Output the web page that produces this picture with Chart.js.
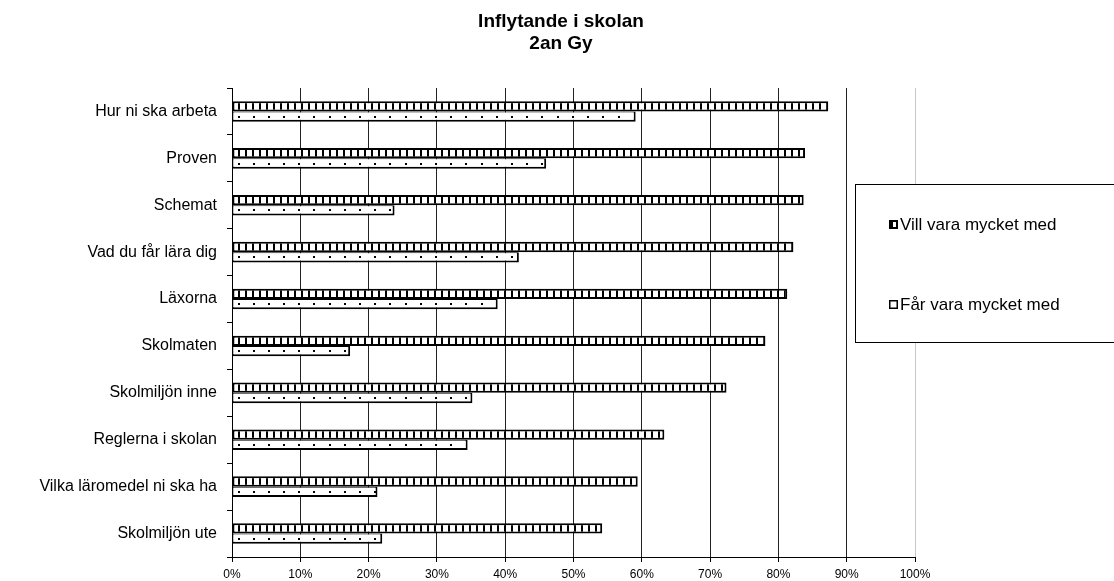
<!DOCTYPE html>
<html lang="sv">
<head>
<meta charset="utf-8">
<title>Inflytande i skolan</title>
<script src="https://cdn.jsdelivr.net/npm/chart.js@4.4.1/dist/chart.umd.min.js"></script>
<style>
  html, body { margin: 0; padding: 0; background: #fff; }
  canvas { display: block; }
</style>
</head>
<body>
<canvas id="chart" width="1114" height="581"></canvas>
<script>
const categories = [
    'Hur ni ska arbeta',
    'Proven',
    'Schemat',
    'Vad du får lära dig',
    'Läxorna',
    'Skolmaten',
    'Skolmiljön inne',
    'Reglerna i skolan',
    'Vilka läromedel ni ska ha',
    'Skolmiljön ute'
];
const villValues = [87.3, 83.9, 83.7, 82.2, 81.3, 78.1, 72.4, 63.3, 59.4, 54.2];
const farValues = [59.1, 46.0, 23.8, 42.0, 38.9, 17.3, 35.2, 34.5, 21.3, 22.0];
const seriesNames = ['Vill vara mycket med', 'Får vara mycket med'];
const titleLines = ['Inflytande i skolan', '2an Gy'];
const xTickLabels = ['0%', '10%', '20%', '30%', '40%', '50%', '60%', '70%', '80%', '90%', '100%'];

const FONT = '"Liberation Sans", Arial, sans-serif';
const canvas = document.getElementById('chart');
const mainCtx = canvas.getContext('2d');

// vertical black stripes for the "Vill" bars
function stripePattern() {
    const c = document.createElement('canvas');
    c.width = 7;
    c.height = 1;
    const g = c.getContext('2d');
    g.fillStyle = '#fff';
    g.fillRect(0, 0, 7, 1);
    g.fillStyle = '#000';
    g.fillRect(0, 0, 2, 1);
    return mainCtx.createPattern(c, 'repeat');
}
const stripes = stripePattern();

// title is centred on the whole page, not on the plot area
const pageTitle = {
    id: 'pageTitle',
    afterDraw(chart) {
        const ctx = chart.ctx;
        ctx.save();
        ctx.font = 'bold 19px ' + FONT;
        ctx.fillStyle = '#000';
        ctx.textAlign = 'center';
        ctx.textBaseline = 'alphabetic';
        titleLines.forEach((line, i) => ctx.fillText(line, 561, 27 + i * 22));
        ctx.restore();
    }
};

// dotted fill for the "Får" bars, drawn along each bar's centre line
const dotsPlugin = {
    id: 'dots',
    afterDatasetsDraw(chart) {
        const meta = chart.getDatasetMeta(1);
        const ctx = chart.ctx;
        ctx.save();
        ctx.fillStyle = '#000';
        meta.data.forEach(bar => {
            const { x, y, base } = bar.getProps(['x', 'y', 'base'], true);
            for (let px = base + 5; px < x - 3; px += 15.2) {
                ctx.fillRect(Math.round(px), Math.round(y) - 1, 2, 2);
            }
        });
        ctx.restore();
    }
};

// boxed legend that sits over the right part of the plot
const boxLegend = {
    id: 'boxLegend',
    afterDraw(chart) {
        const ctx = chart.ctx;
        const left = 855.5, top = 184.5, bottom = 342.5;
        const itemY = [224, 304];
        ctx.save();
        ctx.fillStyle = '#fff';
        ctx.fillRect(left, top, chart.width - left + 5, bottom - top);
        ctx.strokeStyle = '#000';
        ctx.lineWidth = 1;
        ctx.strokeRect(left, top, chart.width - left + 5, bottom - top);

        ctx.font = '17px ' + FONT;
        ctx.textBaseline = 'middle';
        ctx.textAlign = 'left';
        seriesNames.forEach((name, i) => {
            const y = itemY[i];
            if (i === 0) {
                ctx.fillStyle = '#000';
                ctx.fillRect(889, y - 4, 9, 9);
                ctx.fillStyle = '#fff';
                ctx.fillRect(893, y - 2, 3, 5);
            } else {
                ctx.fillStyle = '#fff';
                ctx.fillRect(889, y - 4, 9, 9);
                ctx.lineWidth = 1.5;
                ctx.strokeRect(889.75, y - 3.25, 7.5, 7.5);
            }
            ctx.fillStyle = '#000';
            ctx.fillText(name, 900, y + 1);
        });
        ctx.restore();
    }
};

Chart.defaults.font.family = FONT;
Chart.defaults.color = '#000';

new Chart(mainCtx, {
    type: 'bar',
    data: {
        labels: categories,
        datasets: [
            {
                label: seriesNames[0],
                data: villValues,
                backgroundColor: stripes,
                borderColor: '#000',
                borderWidth: 2,
                borderSkipped: false
            },
            {
                label: seriesNames[1],
                data: farValues,
                backgroundColor: '#fff',
                borderColor: '#000',
                borderWidth: { top: 1, left: 1, right: 2, bottom: 2 },
                borderSkipped: false
            }
        ]
    },
    options: {
        indexAxis: 'y',
        responsive: false,
        animation: false,
        categoryPercentage: 0.44,
        barPercentage: 1.0,
        layout: { padding: { left: 0, right: 199, top: 88, bottom: 0 } },
        plugins: {
            legend: { display: false },
            tooltip: { enabled: false },
            title: { display: false }
        },
        scales: {
            x: {
                min: 0,
                max: 100,
                ticks: {
                    stepSize: 10,
                    maxRotation: 0,
                    color: '#000',
                    font: { size: 12 },
                    padding: 5,
                    callback: (v, i) => xTickLabels[i]
                },
                grid: {
                    color: c => c.tick && c.tick.value === 100 ? '#c8c8c8' : '#222',
                    tickColor: '#000',
                    tickLength: 5
                },
                border: { color: '#000' },
                afterFit: s => { s.height = 24; }
            },
            y: {
                ticks: {
                    color: '#000',
                    font: { size: 16 },
                    padding: 10
                },
                grid: {
                    offset: true,
                    drawOnChartArea: false,
                    color: '#000',
                    tickLength: 5
                },
                border: { color: '#000' },
                afterFit: s => { s.width = 232; }
            }
        }
    },
    plugins: [dotsPlugin, boxLegend, pageTitle]
});
</script>
</body>
</html>
